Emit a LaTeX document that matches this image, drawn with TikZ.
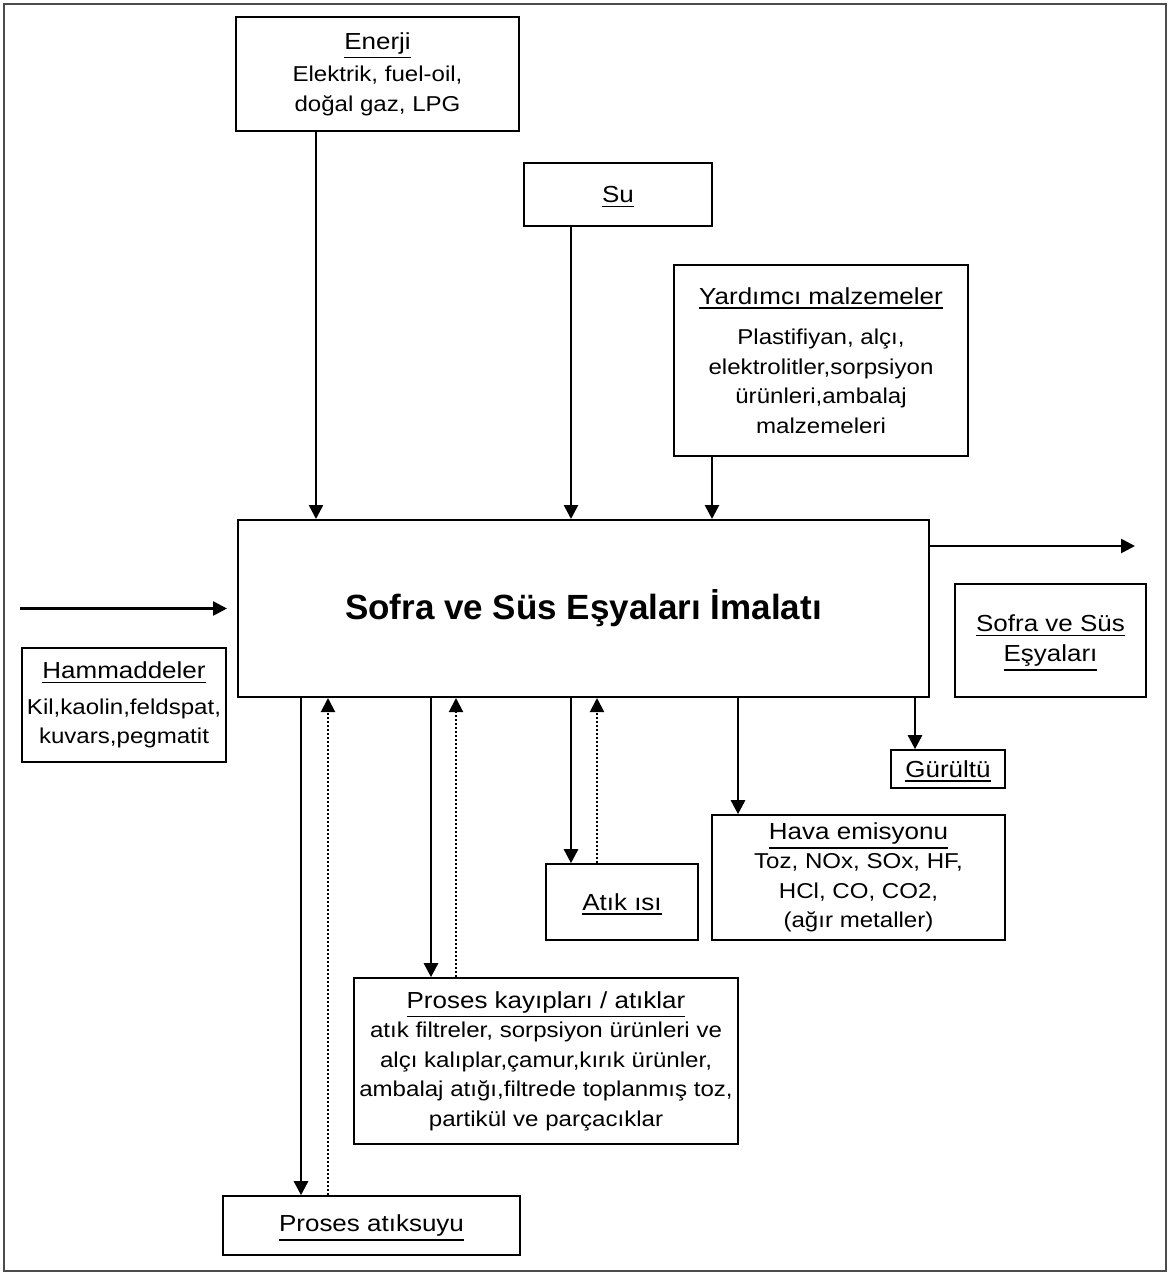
\documentclass[tikz,border=0pt]{standalone}
\usepackage{fontspec}
\setmainfont{Liberation Sans}[FakeStretch=1.12]
\newfontfamily\titlefont{Liberation Sans}
\usetikzlibrary{arrows.meta}

\newcommand{\ttl}[1]{\setbox0\hbox{\fontsize{23.2}{29.5}\selectfont #1}\leavevmode\rlap{\raisebox{-\dimexpr\dp0+4.5pt\relax}[0pt][0pt]{\rule{\wd0}{1.7pt}}}\box0}

\tikzset{
  box/.style={draw, line width=1.6pt, align=center, inner sep=0pt, font=\fontsize{21.5}{29.5}\selectfont},
  arr/.style={line width=2.6pt, -{Triangle[length=14pt,width=14pt]}},
  darr/.style={line width=2pt, dotted, -{Triangle[length=14pt,width=14pt]}},
}

\begin{document}
\begin{tikzpicture}[x=1pt, y=-1pt]
\useasboundingbox (0,0) rectangle (1171,1276);
\draw[line width=2pt, black!70] (4,4) rectangle (1166,1271);

% ana proses
\node[box, line width=2pt, minimum width=691pt, minimum height=177pt, font=\titlefont\bfseries\fontsize{35}{40}\selectfont] (main) at (583.5,608.5) {Sofra ve Süs Eşyaları İmalatı};

% girdiler
\node[box, minimum width=283pt, minimum height=114pt] (enerji) at (377.5,74) {\ttl{Enerji}\\[3pt] Elektrik, fuel-oil,\\ doğal gaz, LPG};
\node[box, minimum width=188pt, minimum height=63pt] (su) at (618,194.5) {\ttl{Su}};
\node[box, minimum width=294pt, minimum height=191pt] (yard) at (821,360.5) {\ttl{Yardımcı malzemeler}\\[11pt] Plastifiyan, alçı,\\ elektrolitler,sorpsiyon\\ ürünleri,ambalaj\\ malzemeleri};
\node[box, minimum width=204pt, minimum height=114pt] (hamm) at (124,705) {\ttl{Hammaddeler}\\[6pt] Kil,kaolin,feldspat,\\ kuvars,pegmatit};

% çıktılar
\node[box, minimum width=191pt, minimum height=113pt] (urun) at (1050.5,640.5) {\ttl{Sofra ve Süs}\\ \ttl{Eşyaları}};
\node[box, minimum width=114pt, minimum height=38pt] (gurultu) at (948,769) {\ttl{Gürültü}};
\node[box, minimum width=293pt, minimum height=125pt] (hava) at (858.5,877.5) {\ttl{Hava emisyonu}\\ Toz, NOx, SOx, HF,\\ HCl, CO, CO2,\\ (ağır metaller)};
\node[box, minimum width=152pt, minimum height=76pt] (isi) at (622,902) {\ttl{Atık ısı}};
\node[box, minimum width=384pt, minimum height=166pt] (kayip) at (546,1061) {\ttl{Proses kayıpları / atıklar}\\ atık filtreler, sorpsiyon ürünleri ve\\ alçı kalıplar,çamur,kırık ürünler,\\ ambalaj atığı,filtrede toplanmış toz,\\ partikül ve parçacıklar};
\node[box, minimum width=297pt, minimum height=59pt] (atiksu) at (371.5,1225.5) {\ttl{Proses atıksuyu}};

% ok sütunları
\coordinate (cE) at (316,0);
\coordinate (cS) at (571,0);
\coordinate (cY) at (712,0);
\coordinate (cW) at (301,0);
\coordinate (cWd) at (328,0);
\coordinate (cK) at (431,0);
\coordinate (cKd) at (456,0);
\coordinate (cI) at (571,0);
\coordinate (cId) at (597,0);
\coordinate (cH) at (738,0);
\coordinate (cG) at (915,0);
\coordinate (inL) at (20,608.5);
\coordinate (outR) at (1135,546);

% girdi okları
\draw[arr] (enerji.south -| cE) -- (main.north -| cE);
\draw[arr] (su.south -| cS) -- (main.north -| cS);
\draw[arr] (yard.south -| cY) -- (main.north -| cY);
\draw[arr] (inL) -- ([xshift=-10pt]inL -| main.west);
\draw[arr] (outR -| main.east) -- (outR);

% çıktı okları
\draw[arr] (main.south -| cW) -- (atiksu.north -| cW);
\draw[darr] (atiksu.north -| cWd) -- (main.south -| cWd);
\draw[arr] (main.south -| cK) -- (kayip.north -| cK);
\draw[darr] (kayip.north -| cKd) -- (main.south -| cKd);
\draw[arr] (main.south -| cI) -- (isi.north -| cI);
\draw[darr] (isi.north -| cId) -- (main.south -| cId);
\draw[arr] (main.south -| cH) -- (hava.north -| cH);
\draw[arr] (main.south -| cG) -- (gurultu.north -| cG);
\end{tikzpicture}
\end{document}
